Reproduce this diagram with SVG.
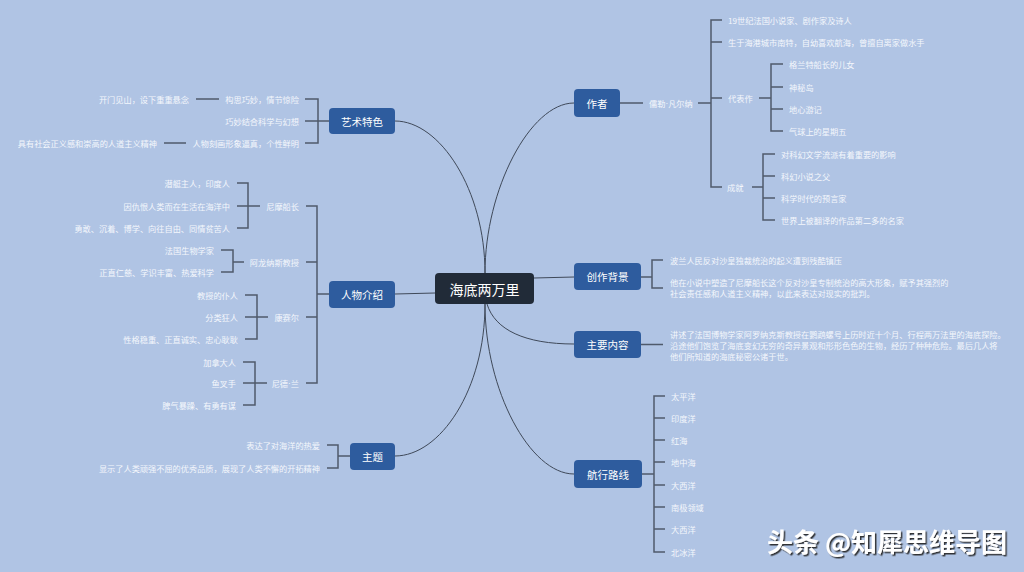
<svg xmlns="http://www.w3.org/2000/svg" width="1024" height="572" viewBox="0 0 1024 572">
<defs>
<style>
.bg{fill:#B0C4E4}
.mn rect{fill:#2E5C9E}
.mn text{fill:#FFFFFF;font-family:"Noto Sans CJK SC","Noto Sans",sans-serif;font-size:10.5px;text-anchor:middle;dominant-baseline:central}
.root rect{fill:#212B38}
.root text{fill:#FFFFFF;font-family:"Noto Sans CJK SC","Noto Sans",sans-serif;font-size:14px;text-anchor:middle;dominant-baseline:central}
.t{fill:#F4F7FC;font-family:"Noto Sans CJK SC","Noto Sans",sans-serif;font-size:8.2px;dominant-baseline:central}
.l{text-anchor:end}
.dot{font-family:"Liberation Sans",sans-serif}
.cv{fill:none;stroke:#3F4959;stroke-width:1}
.br{fill:none;stroke:#4F5A6B;stroke-width:1.5}
.wm{fill:#FFFFFF;font-family:"Noto Sans CJK SC","Noto Sans",sans-serif;font-size:26px;font-weight:bold;dominant-baseline:central}
</style>
<filter id="sh" x="-10%" y="-30%" width="120%" height="160%">
<feDropShadow dx="1.5" dy="1.5" stdDeviation="0.6" flood-color="#222222" flood-opacity="0.9"/>
</filter>
</defs>
<rect class="bg" x="0" y="0" width="1024" height="572"/>

<g id="connectors">
<path class="cv" d="M395,121 C440,121 485,190 485,273"/>
<path class="cv" d="M574,103 C530,103 485,190 485,273"/>
<path class="cv" d="M395,456 C440,456 485,390 485,304"/>
<path class="cv" d="M574,474 C530,474 485,390 485,304"/>
<path class="cv" d="M487,304 C495,330 525,344 574,344"/>
<path class="cv" d="M534,278 L574,277"/>
<path class="cv" d="M395,294 L435,293"/>
<path class="br" d="M329,121 H318 M305,99 H318 V143 H305 M305,121 H318"/>
<path class="br" d="M196,99 H219 M164,143 H186"/>
<path class="br" d="M329,294 H317 M306,206 H317 V383 H306 M306,262 H317 M306,317 H317"/>
<path class="br" d="M260,206 H248 M237,183 H248 V228 H237 M237,206 H248"/>
<path class="br" d="M244,262 H233 M221,250 H233 V272 H221"/>
<path class="br" d="M268,317 H257 M245,295 H257 V339 H245 M245,317 H257"/>
<path class="br" d="M267,383 H255 M243,362 H255 V405 H243 M243,383 H255"/>
<path class="br" d="M350,456 H338 M327,445 H338 V468 H327"/>
<path class="br" d="M620,103 H643 M698,103 H711 M722,20 H711 V187 H722 M711,42 H722 M711,98 H722"/>
<path class="br" d="M759,98 H771 M783,64 H771 V131 H783 M771,87 H783 M771,109 H783"/>
<path class="br" d="M752,187 H763 M775,154 H763 V220 H775 M763,176 H775 M763,198 H775"/>
<path class="br" d="M641,277 H652 M663,260 H652 V288 H663"/>
<path class="br" d="M641,344.5 H663"/>
<path class="br" d="M642,474 H654 M665,396 H654 V552 H665 M654,418 H665 M654,440 H665 M654,462 H665 M654,485 H665 M654,507 H665 M654,529 H665"/>
</g>

<g id="root" class="root">
<rect x="435" y="273" width="99" height="31" rx="4"/>
<text x="484.5" y="289">海底两万里</text>
</g>

<g id="n-art" class="mn">
<rect x="329" y="108" width="66" height="26" rx="4"/>
<text x="362" y="121">艺术特色</text>
</g>
<g id="n-art-kids">
<text class="t l" x="299" y="99">构思巧妙，情节惊险</text>
<text class="t l" x="299" y="121">巧妙结合科学与幻想</text>
<text class="t l" x="299" y="143">人物刻画形象逼真，个性鲜明</text>
<text class="t l" x="189" y="99">开门见山，设下重重悬念</text>
<text class="t l" x="157" y="143">具有社会正义感和崇高的人道主义精神</text>
</g>

<g id="n-chars" class="mn">
<rect x="329" y="281" width="66" height="27" rx="4"/>
<text x="362" y="294.5">人物介绍</text>
</g>
<g id="n-nemo">
<text class="t l" x="299" y="206">尼摩船长</text>
<text class="t l" x="230" y="183">潜艇主人，印度人</text>
<text class="t l" x="230" y="206">因仇恨人类而在生活在海洋中</text>
<text class="t l" x="230" y="228">勇敢、沉着、博学、向往自由、同情贫苦人</text>
</g>
<g id="n-prof">
<text class="t l" x="299" y="262">阿龙纳斯教授</text>
<text class="t l" x="214" y="250">法国生物学家</text>
<text class="t l" x="214" y="272">正直仁慈、学识丰富、热爱科学</text>
</g>
<g id="n-conseil">
<text class="t l" x="299" y="317">康赛尔</text>
<text class="t l" x="238" y="295">教授的仆人</text>
<text class="t l" x="238" y="317">分类狂人</text>
<text class="t l" x="238" y="339">性格稳重、正直诚实、忠心耿耿</text>
</g>
<g id="n-ned">
<text class="t l" x="299" y="383">尼德<tspan class="dot">·</tspan>兰</text>
<text class="t l" x="236" y="362">加拿大人</text>
<text class="t l" x="236" y="383">鱼叉手</text>
<text class="t l" x="236" y="405">脾气暴躁、有勇有谋</text>
</g>

<g id="n-theme" class="mn">
<rect x="350" y="443" width="45" height="27" rx="4"/>
<text x="372.5" y="456.5">主题</text>
</g>
<g id="n-theme-kids">
<text class="t l" x="320" y="445">表达了对海洋的热爱</text>
<text class="t l" x="320" y="468">显示了人类顽强不屈的优秀品质，展现了人类不懈的开拓精神</text>
</g>

<g id="n-author" class="mn">
<rect x="574" y="89" width="46" height="28" rx="4"/>
<text x="597" y="103">作者</text>
</g>
<g id="n-author-kids">
<text class="t" x="649" y="103">儒勒<tspan class="dot">·</tspan>凡尔纳</text>
<text class="t" x="728" y="20">19世纪法国小说家、剧作家及诗人</text>
<text class="t" x="728" y="42">生于海港城市南特，自幼喜欢航海，曾擅自离家做水手</text>
<text class="t" x="728" y="98">代表作</text>
<text class="t" x="727" y="187">成就</text>
<text class="t" x="789" y="64">格兰特船长的儿女</text>
<text class="t" x="789" y="87">神秘岛</text>
<text class="t" x="789" y="109">地心游记</text>
<text class="t" x="789" y="131">气球上的星期五</text>
<text class="t" x="781" y="154">对科幻文学流派有着重要的影响</text>
<text class="t" x="781" y="176">科幻小说之父</text>
<text class="t" x="781" y="198">科学时代的预言家</text>
<text class="t" x="781" y="220">世界上被翻译的作品第二多的名家</text>
</g>

<g id="n-bg" class="mn">
<rect x="574" y="263" width="67" height="27" rx="4"/>
<text x="607.5" y="276.5">创作背景</text>
</g>
<g id="n-bg-kids">
<text class="t" x="670" y="260">波兰人民反对沙皇独裁统治的起义遭到残酷镇压</text>
<text class="t" x="670" y="282">他在小说中塑造了尼摩船长这个反对沙皇专制统治的高大形象，赋予其强烈的</text>
<text class="t" x="670" y="293">社会责任感和人道主义精神，以此来表达对现实的批判。</text>
</g>

<g id="n-content" class="mn">
<rect x="574" y="331" width="67" height="27" rx="4"/>
<text x="607.5" y="344.5">主要内容</text>
</g>
<g id="n-content-kids">
<text class="t" x="670" y="334">讲述了法国博物学家阿罗纳克斯教授在鹦鹉螺号上历时近十个月、行程两万法里的海底探险。</text>
<text class="t" x="670" y="345">沿途他们饱览了海底变幻无穷的奇异景观和形形色色的生物，经历了种种危险。最后几人将</text>
<text class="t" x="670" y="356">他们所知道的海底秘密公诸于世。</text>
</g>

<g id="n-route" class="mn">
<rect x="574" y="460" width="68" height="28" rx="4"/>
<text x="608" y="474">航行路线</text>
</g>
<g id="n-route-kids">
<text class="t" x="671" y="396">太平洋</text>
<text class="t" x="671" y="418">印度洋</text>
<text class="t" x="671" y="440">红海</text>
<text class="t" x="671" y="462">地中海</text>
<text class="t" x="671" y="485">大西洋</text>
<text class="t" x="671" y="507">南极领域</text>
<text class="t" x="671" y="529">大西洋</text>
<text class="t" x="671" y="552">北冰洋</text>
</g>

<text class="wm" x="767" y="540" filter="url(#sh)">头条 @知犀思维导图</text>
</svg>
